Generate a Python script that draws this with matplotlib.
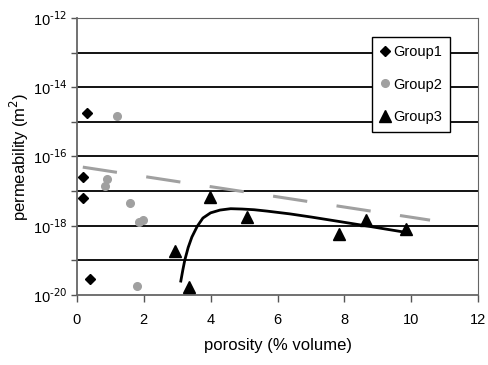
import numpy as np
import matplotlib.pyplot as plt
from matplotlib.ticker import NullFormatter

plt.rcParams['font.family'] = ['Liberation Sans', 'DejaVu Sans']

# log10 permeability
g1_x = [0.3, 0.2, 0.18, 0.4]
g1_y = [-14.75, -16.6, -17.2, -19.54]

g2_x = [1.2, 0.9, 0.84, 1.59, 1.86, 1.98, 1.8]
g2_y = [-14.84, -16.65, -16.86, -17.35, -17.9, -17.84, -19.75]

g3_x = [3.98, 5.09, 2.93, 3.35, 7.84, 8.65, 9.85]
g3_y = [-17.17, -17.75, -18.73, -19.77, -18.24, -17.84, -18.1]

# black fitted curve
fit_x = [3.11, 3.17, 3.23, 3.33, 3.44, 3.6, 3.77, 4.0, 4.28, 4.6, 4.94, 5.3, 5.69, 6.37, 7.0, 7.78, 8.68, 9.75]
fit_y = [-19.6, -19.28, -18.99, -18.63, -18.33, -18.02, -17.78, -17.63, -17.55, -17.51, -17.52, -17.54, -17.58, -17.66, -17.75, -17.87, -18.01, -18.18]

# grey dashed trend
trend_x = [0.18, 10.56]
trend_y = [-16.31, -17.84]

fig = plt.figure(figsize=(4.89, 3.65), dpi=100)
ax = fig.add_axes([0.157, 0.192, 0.821, 0.759])

for e in range(-19, -12):
    ax.axhline(10.0 ** e, color='black', lw=1.3, zorder=1)

ax.plot(trend_x, 10.0 ** np.array(trend_y), color='#a0a0a0', lw=2.2,
        dashes=(11.3, 9.7), zorder=2)
ax.plot(fit_x, 10.0 ** np.array(fit_y), color='black', lw=2.0, zorder=3)

ax.plot(g1_x, 10.0 ** np.array(g1_y), 'D', color='black', ms=5, ls='none', label='Group1', zorder=4)
ax.plot(g2_x, 10.0 ** np.array(g2_y), 'o', color='#a0a0a0', ms=5.5, ls='none', label='Group2', zorder=4)
ax.plot(g3_x, 10.0 ** np.array(g3_y), '^', color='black', ms=8, ls='none', label='Group3', zorder=4)

ax.set_yscale('log')
ax.set_xlim(0, 12)
ax.set_ylim(1e-20, 1e-12)
ax.set_xticks(range(0, 13, 2))
ax.set_yticks([10.0 ** e for e in range(-20, -11, 2)])
ax.set_yticks([10.0 ** e for e in range(-19, -12, 2)], minor=True)
ax.set_yticklabels([r'10$^{\text{-%d}}$' % -e for e in range(-20, -11, 2)])
ax.yaxis.set_minor_formatter(NullFormatter())
ax.tick_params(axis='y', which='both', length=4, width=1, colors='#555555', labelcolor='black', labelsize=10.5, pad=3)
ax.tick_params(axis='x', length=5, width=1, colors='#555555', labelcolor='black', labelsize=10.5, pad=8)

for s in ['left', 'bottom', 'right', 'top']:
    ax.spines[s].set_color('#666666')
ax.spines['left'].set_linewidth(1.3)
ax.spines['bottom'].set_linewidth(1.3)

ax.set_xlabel('porosity (% volume)', fontsize=12, labelpad=8)
ax.set_ylabel('permeability (m$^2$)', fontsize=12)
ax.yaxis.set_label_coords(-0.115, 0.5)

leg = ax.legend(loc='upper left', bbox_to_anchor=(0.736, 0.93), fontsize=10.5,
                frameon=True, fancybox=False, handletextpad=0.3, handlelength=0.6,
                borderpad=0.55, labelspacing=1.25, borderaxespad=0)
leg.get_frame().set_edgecolor('black')
leg.get_frame().set_linewidth(1.0)
leg.get_frame().set_alpha(1)

fig.savefig('out.png', dpi=100)
